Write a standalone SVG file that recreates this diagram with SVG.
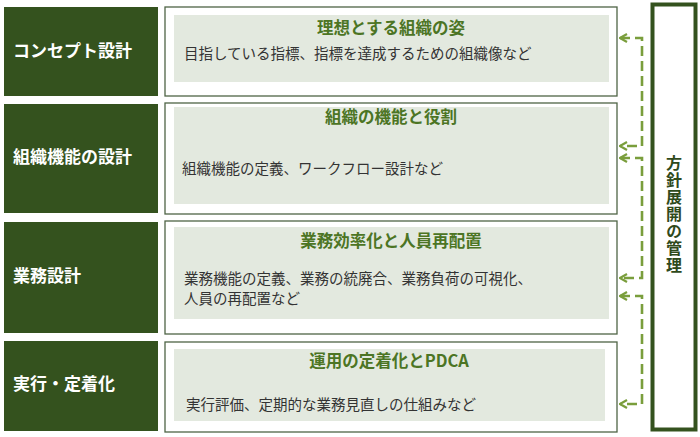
<svg xmlns="http://www.w3.org/2000/svg" width="700" height="437" viewBox="0 0 700 437">
<style>
.lab{fill:#34521e}
.labt{font-family:"Noto Sans CJK JP","Noto Sans",sans-serif;font-weight:bold;font-size:17px;fill:#ffffff}
.outer{fill:#ffffff;stroke:#4f6445;stroke-width:1.3}
.inner{fill:#e3e9df}
.ttl{font-family:"Noto Sans CJK JP","Noto Sans",sans-serif;font-weight:bold;font-size:16.5px;fill:#4c7524;text-anchor:middle}
.body{font-family:"Noto Sans CJK JP","Noto Sans",sans-serif;font-size:14.5px;fill:#333333}
.vt{font-family:"Noto Sans CJK JP","Noto Sans",sans-serif;font-weight:bold;font-size:16px;fill:#2f4a1c;writing-mode:vertical-rl;letter-spacing:1px}
.conn{fill:none;stroke:#7a9e3c;stroke-width:2.6;stroke-dasharray:10,5}
</style>
<defs>
<marker id="arr" markerUnits="userSpaceOnUse" viewBox="0 0 10 10" refX="9" refY="5" markerWidth="10" markerHeight="10" orient="auto-start-reverse">
<path d="M2,1 L9,5 L2,9" fill="none" stroke="#7a9e3c" stroke-width="2.2"/>
</marker>
</defs>
<rect width="700" height="437" fill="#ffffff"/>

<g id="label-concept"><rect class="lab" x="4" y="7" width="154" height="89"/><text class="labt" x="13" y="57">コンセプト設計</text></g>
<g id="label-org"><rect class="lab" x="4" y="104" width="154" height="109"/><text class="labt" x="13" y="163">組織機能の設計</text></g>
<g id="label-biz"><rect class="lab" x="4" y="222" width="154" height="111"/><text class="labt" x="13" y="282">業務設計</text></g>
<g id="label-exec"><rect class="lab" x="4" y="341" width="154" height="90"/><text class="labt" x="13" y="390">実行・定着化</text></g>

<g id="box-ideal"><rect class="outer" x="165" y="7" width="452" height="89"/><rect class="inner" x="174" y="15" width="435" height="67"/>
<text class="ttl" x="391" y="34">理想とする組織の姿</text>
<text class="body" x="184" y="59">目指している指標、指標を達成するための組織像など</text></g>

<g id="box-func"><rect class="outer" x="165" y="103" width="452" height="111"/><rect class="inner" x="174" y="107" width="435" height="97"/>
<text class="ttl" x="391" y="123">組織の機能と役割</text>
<text class="body" x="182" y="174">組織機能の定義、ワークフロー設計など</text></g>

<g id="box-eff"><rect class="outer" x="165" y="221" width="452" height="113"/><rect class="inner" x="174" y="227" width="435" height="92"/>
<text class="ttl" x="391" y="247">業務効率化と人員再配置</text>
<text class="body" x="184" y="284">業務機能の定義、業務の統廃合、業務負荷の可視化、</text>
<text class="body" x="184" y="304">人員の再配置など</text></g>

<g id="box-pdca"><rect class="outer" x="165" y="342" width="452" height="90"/><rect class="inner" x="174" y="349" width="431" height="72"/>
<text class="ttl" x="389" y="367">運用の定着化とPDCA</text>
<text class="body" x="186" y="410">実行評価、定期的な業務見直しの仕組みなど</text></g>

<g id="policy"><rect x="652.5" y="4.5" width="43" height="425" fill="#ffffff" stroke="#34521e" stroke-width="4"/>
<text class="vt" x="674" y="155">方針展開の管理</text></g>

<g id="connectors">
<path class="conn" d="M620,38 H642 V146 H620" marker-start="url(#arr)" marker-end="url(#arr)"/>
<path class="conn" d="M620,158 H642 V278 H620" marker-start="url(#arr)" marker-end="url(#arr)"/>
<path class="conn" d="M620,296 H642 V404 H620" marker-start="url(#arr)" marker-end="url(#arr)"/>
</g>
</svg>
